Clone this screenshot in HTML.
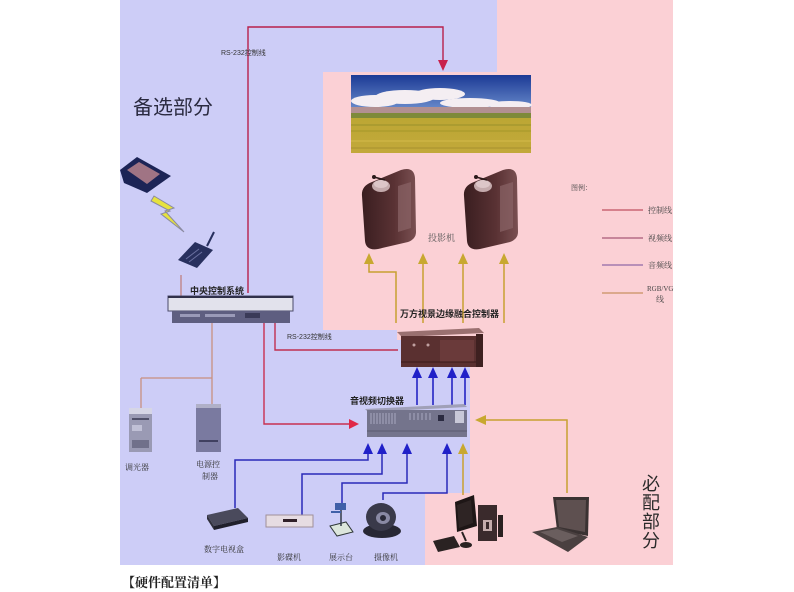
<!DOCTYPE html>
<html><head><meta charset="utf-8">
<style>
html,body{margin:0;padding:0;background:#fff;}
svg{display:block;}
.s{font-family:"Liberation Sans","Noto Sans CJK SC",sans-serif;}
.r{font-family:"Liberation Serif","Noto Serif CJK SC",serif;}
</style></head>
<body>
<svg width="794" height="592" viewBox="0 0 794 592" xmlns="http://www.w3.org/2000/svg">
<defs>
<linearGradient id="sky" x1="0" y1="0" x2="0" y2="1">
<stop offset="0" stop-color="#1c3a95"/><stop offset="1" stop-color="#6a8ccc"/>
</linearGradient>
<linearGradient id="field" x1="0" y1="0" x2="0" y2="1">
<stop offset="0" stop-color="#8c8e34"/><stop offset="0.25" stop-color="#b8a630"/><stop offset="1" stop-color="#c2a83a"/>
</linearGradient>
<linearGradient id="proj" x1="0" y1="0" x2="1" y2="0">
<stop offset="0" stop-color="#3a1e20"/><stop offset="0.6" stop-color="#5a3234"/><stop offset="1" stop-color="#7a5052"/>
</linearGradient>
</defs>

<!-- backgrounds -->
<rect x="120" y="0" width="377" height="565" fill="#cdcdf7"/>
<polygon points="497,0 673,0 673,565 425,565 425,493 470,493 470,340 397,340 397,330 323,330 323,72 497,72" fill="#fbd0d5"/>

<!-- landscape -->
<rect x="351" y="75" width="180" height="78" fill="url(#field)"/>
<rect x="351" y="75" width="180" height="35" fill="url(#sky)"/>
<g fill="#f4eef2">
<ellipse cx="375" cy="101" rx="24" ry="6"/>
<ellipse cx="405" cy="97" rx="30" ry="7"/>
<ellipse cx="440" cy="94" rx="25" ry="6"/>
<ellipse cx="470" cy="103" rx="30" ry="5"/>
<ellipse cx="510" cy="105" rx="22" ry="4"/>
</g>
<rect x="351" y="107" width="180" height="7" fill="#b29092"/>
<rect x="351" y="113" width="180" height="5" fill="#7e8a3a"/>
<rect x="351" y="124" width="180" height="2" fill="#9a922c" opacity="0.5"/>
<rect x="351" y="130" width="180" height="2" fill="#a89a2c" opacity="0.6"/>
<rect x="351" y="140" width="180" height="2" fill="#d0b848" opacity="0.6"/>
<rect x="351" y="147" width="180" height="2" fill="#a89030" opacity="0.5"/>

<!-- projectors -->
<g id="pj">
<path d="M362,196 Q361,186 372,182 L401,170 Q414,166 415,178 L416,232 Q416,239 408,242 L378,249 Q366,251 365,241 Z" fill="url(#proj)"/>
<path d="M398,186 L411,182 L411,228 L398,232 Z" fill="#8a6466" opacity="0.7"/>
<ellipse cx="381" cy="186" rx="9" ry="6" fill="#c4aaac"/>
<ellipse cx="381" cy="184" rx="7" ry="4" fill="#dcc6c8"/>
<line x1="374" y1="177" x2="385" y2="180" stroke="#2a1a1a" stroke-width="1.5"/>
<circle cx="374" cy="177" r="2" fill="#2a1a1a"/>
</g>
<use href="#pj" transform="translate(102,0)"/>
<text x="428" y="241" class="r" font-size="9" fill="#555">投影机</text>

<!-- top RS-232 red line -->
<path d="M248,293 V27 H443 V62" fill="none" stroke="#b8204c" stroke-width="1.4"/>
<polygon points="438,60 448,60 443,71" fill="#c8204c"/>
<text x="221" y="55" class="s" font-size="7" fill="#333">RS-232控制线</text>

<!-- 备选部分 -->
<text x="133" y="114" class="s" font-size="20" fill="#2a2a40">备选部分</text>

<!-- touch panel -->
<polygon points="120,170 137,157 171,176 147,193 124,183" fill="#1c2456"/>
<polygon points="127,170 139,162 160,174 147,184" fill="#a07484"/>
<!-- lightning -->
<polygon points="154,196 174,208 165,211 184,232 161,214 170,211 151,201" fill="#e6e23e" stroke="#8a8aa0" stroke-width="1"/>
<!-- receiver -->
<polygon points="178,260 195,242 213,250 197,268" fill="#28305e"/>
<line x1="186" y1="259" x2="199" y2="249" stroke="#6a70a0" stroke-width="1"/>
<line x1="189" y1="262" x2="202" y2="252" stroke="#6a70a0" stroke-width="1"/>
<line x1="207" y1="246" x2="214" y2="232" stroke="#28305e" stroke-width="2"/>

<!-- line central -> receiver -->
<line x1="181" y1="275" x2="181" y2="296" stroke="#c08080" stroke-width="1.3"/>

<!-- central control -->
<text x="190" y="294" class="s" font-size="9" font-weight="bold" fill="#222">中央控制系统</text>
<rect x="168" y="296" width="125" height="15" fill="#e2e2ec" stroke="#4a4a6a" stroke-width="1"/>
<rect x="168" y="296" width="125" height="2" fill="#30304a"/>
<rect x="172" y="311" width="118" height="12" fill="#5e5e80"/>
<rect x="180" y="314" width="20" height="3" fill="#9a9ab8"/>
<rect x="205" y="314" width="30" height="3" fill="#9a9ab8"/>
<rect x="245" y="313" width="15" height="5" fill="#3a3a58"/>

<!-- tan lines to dimmer / power -->
<path d="M212,323 V405 M141,378 H212 M141,378 V408" fill="none" stroke="#c89080" stroke-width="1.3"/>

<!-- red line to switcher -->
<path d="M264,323 V424 H350" fill="none" stroke="#c83050" stroke-width="1.4"/>
<polygon points="349,419 349,429 359,424" fill="#e02848"/>

<!-- RS-232 middle -->
<path d="M275,323 V350 H398" fill="none" stroke="#c03050" stroke-width="1.4"/>
<text x="287" y="339" class="s" font-size="7" fill="#333">RS-232控制线</text>

<!-- yellow lines controller -> projectors -->
<g stroke="#c8a030" stroke-width="1.5" fill="none">
<path d="M396,323 V272 H369 V262"/>
<path d="M423,323 V262"/>
<path d="M463,323 V262"/>
<path d="M504,323 V262"/>
</g>
<g fill="#c8a830">
<polygon points="364,264 374,264 369,253"/>
<polygon points="418,264 428,264 423,253"/>
<polygon points="458,264 468,264 463,253"/>
<polygon points="499,264 509,264 504,253"/>
</g>

<!-- controller -->
<text x="400" y="317" class="s" font-size="9" font-weight="bold" fill="#222">万方视景边缘融合控制器</text>
<polygon points="397,332 479,328 484,333 402,337" fill="#9a7070"/>
<rect x="401" y="336" width="82" height="31" fill="#5a3030"/>
<rect x="476" y="334" width="7" height="33" fill="#3e2020"/>
<rect x="440" y="340" width="34" height="22" fill="#6a3a3a"/>
<circle cx="414" cy="345" r="1.5" fill="#c0a0a0"/>
<circle cx="428" cy="345" r="1.5" fill="#c0a0a0"/>
<line x1="401" y1="362" x2="476" y2="362" stroke="#3a1a1a" stroke-width="1"/>

<!-- blue arrows switcher -> controller -->
<g stroke="#2424c4" stroke-width="1.6">
<line x1="417" y1="405" x2="417" y2="376"/>
<line x1="433" y1="405" x2="433" y2="376"/>
<line x1="452" y1="405" x2="452" y2="376"/>
<line x1="465" y1="405" x2="465" y2="376"/>
</g>
<g fill="#2020c8">
<polygon points="412,378 422,378 417,367"/>
<polygon points="428,378 438,378 433,367"/>
<polygon points="447,378 457,378 452,367"/>
<polygon points="460,378 470,378 465,367"/>
</g>

<!-- switcher -->
<text x="350" y="404" class="s" font-size="9" font-weight="bold" fill="#222">音视频切换器</text>
<polygon points="365,409 464,404 467,407 368,412" fill="#a0a0b8"/>
<rect x="367" y="410" width="100" height="27" fill="#74748c"/>
<g stroke="#a8a8c0" stroke-width="1">
<line x1="371" y1="413" x2="371" y2="424"/><line x1="374" y1="413" x2="374" y2="424"/><line x1="377" y1="413" x2="377" y2="424"/>
<line x1="380" y1="413" x2="380" y2="424"/><line x1="383" y1="413" x2="383" y2="424"/><line x1="386" y1="413" x2="386" y2="424"/>
<line x1="389" y1="413" x2="389" y2="424"/><line x1="392" y1="413" x2="392" y2="424"/><line x1="395" y1="413" x2="395" y2="424"/>
<line x1="410" y1="413" x2="410" y2="420"/><line x1="414" y1="413" x2="414" y2="420"/><line x1="418" y1="413" x2="418" y2="420"/>
<line x1="422" y1="413" x2="422" y2="420"/><line x1="426" y1="413" x2="426" y2="420"/><line x1="430" y1="413" x2="430" y2="420"/>
</g>
<rect x="438" y="415" width="6" height="6" fill="#2a2a40"/>
<rect x="455" y="411" width="9" height="12" fill="#c8c8d8"/>
<line x1="367" y1="431" x2="467" y2="431" stroke="#5a5a70" stroke-width="1"/>

<!-- blue lines from bottom devices -->
<g stroke="#2a2ab8" stroke-width="1.5" fill="none">
<path d="M235,508 V460 H368 V452"/>
<path d="M302,515 V474 H382 V452"/>
<path d="M342,505 V483 H407 V452"/>
<path d="M383,500 V493 H447 V452"/>
</g>
<g fill="#2020c8">
<polygon points="363,454 373,454 368,443"/>
<polygon points="377,454 387,454 382,443"/>
<polygon points="402,454 412,454 407,443"/>
<polygon points="442,454 452,454 447,443"/>
</g>

<!-- yellow from PC / laptop -->
<g stroke="#c8a030" stroke-width="1.5" fill="none">
<path d="M463,495 V452"/>
<path d="M567,493 V420 H484"/>
</g>
<polygon points="458,454 468,454 463,443" fill="#c8a830"/>
<polygon points="486,415 486,425 475,420" fill="#c8a830"/>

<!-- dimmer & power controller -->
<rect x="129" y="408" width="23" height="44" fill="#9a9ab4"/>
<rect x="129" y="408" width="23" height="6" fill="#d6d6e6"/>
<rect x="132" y="418" width="17" height="2" fill="#50506a"/>
<rect x="132" y="425" width="10" height="6" fill="#c0c0d6"/>
<rect x="132" y="440" width="17" height="8" fill="#70708a"/>
<rect x="196" y="404" width="25" height="48" fill="#7a7aa0"/>
<rect x="196" y="404" width="25" height="4" fill="#b0b0c8"/>
<rect x="199" y="440" width="19" height="2" fill="#404060"/>
<text x="125" y="470" class="r" font-size="8" fill="#333">调光器</text>
<text x="196" y="467" class="r" font-size="8" fill="#333">电源控</text>
<text x="202" y="479" class="r" font-size="8" fill="#333">制器</text>

<!-- set-top box -->
<polygon points="207,515 238,508 248,518 214,526" fill="#4a4a5c"/>
<polygon points="214,526 248,518 248,522 214,530" fill="#20202c"/>
<polygon points="207,515 214,526 214,530 207,519" fill="#30303c"/>
<!-- DVD -->
<rect x="266" y="515" width="47" height="12" fill="#e6dce2" stroke="#a09098" stroke-width="1"/>
<rect x="283" y="519" width="14" height="3" fill="#302028"/>
<!-- doc camera -->
<polygon points="330,526 346,522 353,532 337,536" fill="#dce6dc" stroke="#303838" stroke-width="1"/>
<line x1="341" y1="510" x2="341" y2="526" stroke="#303848" stroke-width="1.5"/>
<rect x="335" y="503" width="11" height="7" fill="#4060a8"/>
<line x1="331" y1="512" x2="341" y2="512" stroke="#4060a8" stroke-width="2"/>
<!-- camera -->
<ellipse cx="382" cy="531" rx="19" ry="7" fill="#282834"/>
<ellipse cx="381" cy="517" rx="15" ry="14" fill="#3a3a4a"/>
<ellipse cx="383" cy="518" rx="7" ry="6" fill="#8a8aa4"/>
<ellipse cx="383" cy="518" rx="3" ry="3" fill="#2a2a38"/>

<text x="204" y="552" class="r" font-size="8" fill="#333">数字电视盒</text>
<text x="277" y="560" class="r" font-size="8" fill="#333">影碟机</text>
<text x="329" y="560" class="r" font-size="8" fill="#333">展示台</text>
<text x="374" y="560" class="r" font-size="8" fill="#333">摄像机</text>

<!-- PC -->
<polygon points="455,502 474,495 477,526 457,532" fill="#1e1616"/>
<polygon points="457,505 471,500 473,523 459,528" fill="#2e2424"/>
<rect x="478" y="505" width="19" height="36" fill="#3a2a2c"/>
<rect x="483" y="520" width="9" height="11" fill="#c4acac"/>
<rect x="486" y="522" width="3" height="7" fill="#3a2a2c"/>
<rect x="498" y="515" width="5" height="22" fill="#2a2020"/>
<polygon points="433,541 454,536 460,547 438,552" fill="#2a2222"/>
<ellipse cx="466" cy="545" rx="6" ry="3" fill="#2a2222"/>
<line x1="462" y1="532" x2="466" y2="541" stroke="#2a2222" stroke-width="2"/>

<!-- laptop -->
<polygon points="553,497 589,497 588,536 557,530" fill="#3a3232"/>
<polygon points="556,500 586,500 585,532 559,527" fill="#5e5050"/>
<polygon points="532,532 557,527 588,537 568,552" fill="#4a4040"/>
<polygon points="540,532 557,529 578,536 562,542" fill="#6a5e5e"/>

<!-- 必配部分 -->
<g class="s" font-size="18" fill="#2a2a2a">
<text x="642" y="490">必</text>
<text x="642" y="509">配</text>
<text x="642" y="528">部</text>
<text x="642" y="547">分</text>
</g>

<!-- legend -->
<text x="571" y="190" class="r" font-size="7" fill="#444">图例：</text>
<line x1="602" y1="210" x2="643" y2="210" stroke="#c05060" stroke-width="1.3"/>
<line x1="602" y1="238" x2="643" y2="238" stroke="#a85878" stroke-width="1.3"/>
<line x1="602" y1="265" x2="643" y2="265" stroke="#9068a8" stroke-width="1.3"/>
<line x1="602" y1="293" x2="643" y2="293" stroke="#c89060" stroke-width="1.3"/>
<g class="r" font-size="8" fill="#444">
<text x="648" y="213">控制线</text>
<text x="648" y="241">视频线</text>
<text x="648" y="268">音频线</text>
<text x="647" y="291" font-size="7">RGB/VG</text>
<text x="656" y="302">线</text>
</g>

<!-- caption -->
<text x="122" y="587" class="r" font-size="13" font-weight="bold" fill="#222">【硬件配置清单】</text>
</svg>
</body></html>
